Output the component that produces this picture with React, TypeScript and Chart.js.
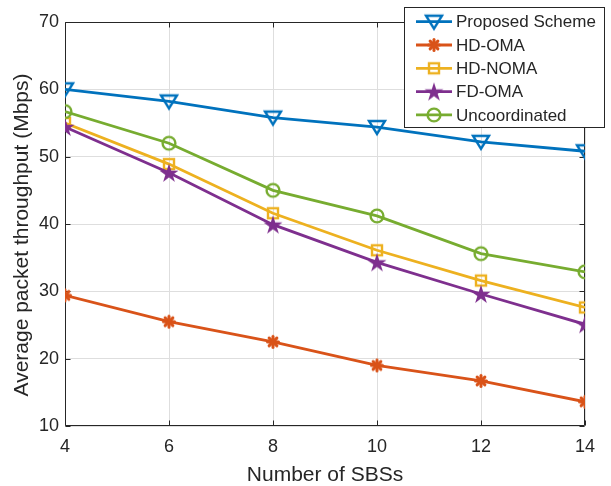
import React, { useEffect, useRef } from 'react';
import { Chart, registerables } from 'chart.js';

Chart.register(...registerables);

const xValues = [4, 6, 8, 10, 12, 14];
const proposed = [60.0, 58.2, 55.8, 54.4, 52.2, 50.8];
const hdOma = [29.4, 25.5, 22.5, 19.0, 16.7, 13.6];
const hdNoma = [55.0, 48.9, 41.6, 36.1, 31.6, 27.6];
const fdOma = [54.4, 47.6, 39.9, 34.3, 29.6, 25.1];
const uncoord = [56.7, 52.0, 45.0, 41.2, 35.6, 32.9];
const seriesNames = ['Proposed Scheme', 'HD-OMA', 'HD-NOMA', 'FD-OMA', 'Uncoordinated'];
const seriesColors = ['#0072BD', '#D95319', '#EDB120', '#7E2F8E', '#77AC30'];
const seriesMarkers = ['triDown', 'asterisk', 'square', 'star', 'circle'];
const xTicks = [4, 6, 8, 10, 12, 14];
const yTicks = [10, 20, 30, 40, 50, 60, 70];
const xTitle = 'Number of SBSs';
const yTitle = 'Average packet throughput (Mbps)';

const FONT = "'Liberation Sans', Arial, Helvetica, sans-serif";
const TEXT = '#262626';
const GRID = '#dedede';
const LINE_W = 2.8;

function makeMarker(kind: string, color: string): HTMLCanvasElement {
  const s = 28;
  const c = s / 2;
  const cv = document.createElement('canvas');
  cv.width = s;
  cv.height = s;
  const ctx = cv.getContext('2d')!;
  ctx.strokeStyle = color;
  ctx.fillStyle = color;
  ctx.lineWidth = 2.4;
  ctx.lineJoin = 'miter';
  if (kind === 'triDown') {
    ctx.beginPath();
    ctx.moveTo(c - 8, c - 6);
    ctx.lineTo(c + 8, c - 6);
    ctx.lineTo(c, c + 7);
    ctx.closePath();
    ctx.stroke();
  } else if (kind === 'asterisk') {
    ctx.lineWidth = 3;
    ctx.lineCap = 'round';
    for (let i = 0; i < 4; i++) {
      const a = (i * Math.PI) / 4;
      ctx.beginPath();
      ctx.moveTo(c - 5.5 * Math.cos(a), c - 5.5 * Math.sin(a));
      ctx.lineTo(c + 5.5 * Math.cos(a), c + 5.5 * Math.sin(a));
      ctx.stroke();
    }
  } else if (kind === 'square') {
    ctx.strokeRect(c - 5, c - 5, 10, 10);
  } else if (kind === 'star') {
    const ro = 10;
    const ri = ro * 0.382;
    ctx.beginPath();
    for (let i = 0; i < 10; i++) {
      const r = i % 2 === 0 ? ro : ri;
      const a = -Math.PI / 2 + (i * Math.PI) / 5;
      const px = c + r * Math.cos(a);
      const py = c + 0.8 + r * Math.sin(a);
      if (i === 0) ctx.moveTo(px, py);
      else ctx.lineTo(px, py);
    }
    ctx.closePath();
    ctx.fill();
  } else if (kind === 'circle') {
    ctx.beginPath();
    ctx.arc(c, c, 6.4, 0, Math.PI * 2);
    ctx.stroke();
  }
  return cv;
}

export default function App() {
  const ref = useRef<HTMLCanvasElement | null>(null);

  useEffect(() => {
    if (!ref.current) return;
    const allData = [proposed, hdOma, hdNoma, fdOma, uncoord];
    const markers = seriesMarkers.map((m, i) => makeMarker(m, seriesColors[i]));

    const datasets = allData.map((vals, i) => ({
      label: seriesNames[i],
      data: vals.map((v, j) => ({ x: xValues[j], y: v })),
      borderColor: seriesColors[i],
      backgroundColor: seriesColors[i],
      borderWidth: LINE_W,
      pointStyle: markers[i] as any,
      pointRadius: 6,
      pointHoverRadius: 6,
      tension: 0,
      order: allData.length - i,
    }));

    const framePlugin = {
      id: 'frame',
      beforeDatasetsDraw(chart: any) {
        const { ctx, chartArea, scales } = chart;
        const { left, right, top, bottom } = chartArea;
        ctx.save();
        ctx.strokeStyle = TEXT;
        ctx.lineWidth = 1;
        const L = Math.round(left) + 0.5;
        const R = Math.round(right) - 0.5;
        const T = Math.round(top) + 0.5;
        const B = Math.round(bottom) - 0.5;
        ctx.beginPath();
        ctx.rect(L, T, R - L, B - T);
        ctx.stroke();
        const tl = 5;
        ctx.beginPath();
        xTicks.forEach((v) => {
          const px = Math.round(scales.x.getPixelForValue(v)) + 0.5;
          ctx.moveTo(px, B);
          ctx.lineTo(px, B - tl);
          ctx.moveTo(px, T);
          ctx.lineTo(px, T + tl);
        });
        yTicks.forEach((v) => {
          const py = Math.round(scales.y.getPixelForValue(v)) + 0.5;
          ctx.moveTo(L, py);
          ctx.lineTo(L + tl, py);
          ctx.moveTo(R, py);
          ctx.lineTo(R - tl, py);
        });
        ctx.stroke();
        ctx.restore();
      },
      afterDraw(chart: any) {
        const { ctx, chartArea } = chart;
        ctx.save();
        ctx.fillStyle = TEXT;
        ctx.font = `21px ${FONT}`;
        ctx.textAlign = 'center';
        ctx.textBaseline = 'middle';
        ctx.fillText(xTitle, (chartArea.left + chartArea.right) / 2, 475);
        ctx.save();
        ctx.translate(28, 235);
        ctx.rotate(-Math.PI / 2);
        ctx.textBaseline = 'alphabetic';
        ctx.fillText(yTitle, 0, 0);
        ctx.restore();

        const bx = 404.5, by = 7.5, bw = 200, bh = 120;
        ctx.fillStyle = '#ffffff';
        ctx.fillRect(bx, by, bw, bh);
        ctx.strokeStyle = TEXT;
        ctx.lineWidth = 1;
        ctx.strokeRect(bx, by, bw, bh);
        ctx.font = `17px ${FONT}`;
        ctx.textAlign = 'left';
        ctx.textBaseline = 'middle';
        seriesNames.forEach((name, i) => {
          const ry = 21.7 + i * 23.3;
          ctx.strokeStyle = seriesColors[i];
          ctx.lineWidth = LINE_W;
          ctx.beginPath();
          ctx.moveTo(416, ry);
          ctx.lineTo(452, ry);
          ctx.stroke();
          const m = markers[i];
          ctx.drawImage(m, 434 - m.width / 2, ry - m.height / 2);
          ctx.fillStyle = TEXT;
          ctx.fillText(name, 456, ry + 1);
        });
        ctx.restore();
      },
    };

    const chart = new Chart(ref.current, {
      type: 'line',
      data: { datasets: datasets as any },
      options: {
        responsive: false,
        animation: false,
        devicePixelRatio: 1,
        layout: { padding: { left: 0, right: 26, top: 22, bottom: 0 } },
        plugins: {
          legend: { display: false },
          tooltip: { enabled: false },
        },
        scales: {
          x: {
            type: 'linear',
            min: 4,
            max: 14,
            afterBuildTicks: (scale: any) => {
              scale.ticks = xTicks.map((v) => ({ value: v }));
            },
            afterFit: (scale: any) => {
              scale.height = 60;
            },
            ticks: {
              font: { family: FONT, size: 18 },
              color: TEXT,
              padding: 10,
              maxRotation: 0,
              autoSkip: false,
            },
            grid: { color: GRID, drawTicks: false, lineWidth: 1 },
            border: { display: false },
          },
          y: {
            type: 'linear',
            min: 10,
            max: 70,
            afterBuildTicks: (scale: any) => {
              scale.ticks = yTicks.map((v) => ({ value: v }));
            },
            afterFit: (scale: any) => {
              scale.width = 65;
            },
            ticks: {
              font: { family: FONT, size: 18 },
              color: TEXT,
              padding: 6,
              autoSkip: false,
            },
            grid: { color: GRID, drawTicks: false, lineWidth: 1 },
            border: { display: false },
          },
        },
      },
      plugins: [framePlugin],
    });

    return () => chart.destroy();
  }, []);

  return (
    <div style={{ position: 'fixed', left: 0, top: 0, width: 611, height: 486, background: '#ffffff' }}>
      <canvas ref={ref} width={611} height={486} style={{ display: 'block', width: 611, height: 486 }} />
    </div>
  );
}
